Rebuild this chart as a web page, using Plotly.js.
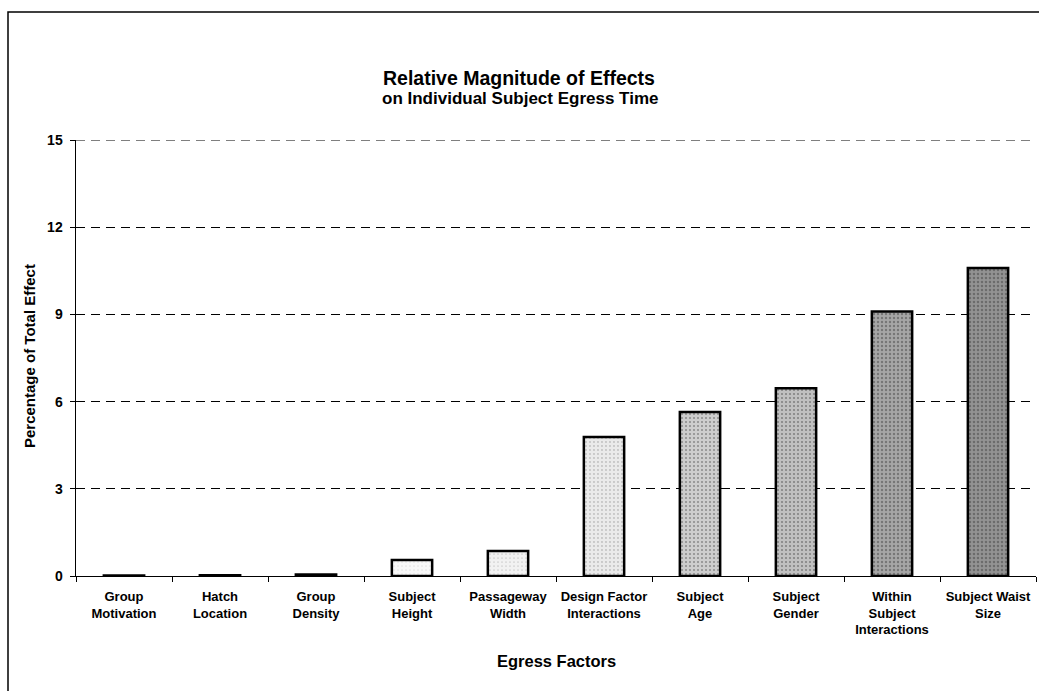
<!DOCTYPE html>
<html>
<head>
<meta charset="utf-8">
<script src="https://cdn.plot.ly/plotly-3.0.1.min.js"></script>
<style>html,body{margin:0;padding:0;background:#fff;}#chart{width:1039px;height:691px;}</style>
</head>
<body>
<div id="chart"></div>
<script>
const categories = [
  "Group<br>Motivation",
  "Hatch<br>Location",
  "Group<br>Density",
  "Subject<br>Height",
  "Passageway<br>Width",
  "Design Factor<br>Interactions",
  "Subject<br>Age",
  "Subject<br>Gender",
  "Within<br>Subject<br>Interactions",
  "Subject Waist<br>Size"
];
const effectPct = [0.02, 0.03, 0.05, 0.55, 0.86, 4.78, 5.64, 6.46, 9.1, 10.6];
const yTicks = [0, 3, 6, 9, 12, 15];
const titleMain = "Relative Magnitude of Effects";
const titleSub = "on Individual Subject Egress Time";
const xTitle = "Egress Factors";
const yTitle = "Percentage of Total Effect";

const fills = ["#ffffff","#ffffff","#ffffff","#f8f8f8","#f2f2f2","#eaeaea","#cdcdcd","#c0c0c0","#a6a6a6","#939393"];
const solid = [0.02,0.02,0.02,0.04,0.06,0.1,0.2,0.22,0.28,0.32];

const font = "Arial, 'Liberation Sans', Helvetica, sans-serif";
const W = 960, H = 436, L = 76, T = 140;
const px2x = p => (p - L) / W;
const py2y = p => 1 - (p - T) / H;

const trace = {
  type: "bar",
  x: categories,
  y: effectPct,
  width: 0.42,
  marker: {
    color: fills,
    line: {color: "#000", width: 2.5},
    pattern: {shape: ".", fillmode: "overlay", fgcolor: "#333", size: 4, solidity: solid}
  },
  hoverinfo: "x+y"
};

const layout = {
  width: 1039, height: 691,
  margin: {l: L, r: 3, t: T, b: 115},
  paper_bgcolor: "#fff",
  plot_bgcolor: "#fff",
  showlegend: false,
  font: {family: font, color: "#000"},
  xaxis: {
    type: "category",
    tickson: "boundaries",
    tickangle: 0,
    ticks: "outside", ticklen: 5, tickcolor: "#000", tickwidth: 1,
    ticklabelstandoff: 8,
    showline: true, linecolor: "#000", linewidth: 1,
    showgrid: false,
    tickfont: {family: font, size: 13, weight: "bold"}
  },
  yaxis: {
    range: [0, 15],
    tickvals: yTicks,
    ticktext: yTicks.map(String),
    ticks: "outside", ticklen: 5, tickcolor: "#000",
    ticklabelstandoff: 4,
    showline: true, linecolor: "#000", linewidth: 1.5,
    showgrid: true, gridcolor: "#000", gridwidth: 1, griddash: "9px,6px",
    zeroline: true, zerolinecolor: "#000", zerolinewidth: 1,
    tickfont: {family: font, size: 14, weight: "bold"}
  },
  annotations: [
    {text: "<b>" + titleMain + "</b>", xref: "paper", yref: "paper", x: px2x(519), y: py2y(78),
     xanchor: "center", yanchor: "middle", showarrow: false, font: {family: font, size: 19.5}},
    {text: "<b>" + titleSub + "</b>", xref: "paper", yref: "paper", x: px2x(520), y: py2y(99),
     xanchor: "center", yanchor: "middle", showarrow: false, font: {family: font, size: 17}},
    {text: "<b>" + xTitle + "</b>", xref: "paper", yref: "paper", x: px2x(556), y: py2y(661),
     xanchor: "center", yanchor: "middle", showarrow: false, font: {family: font, size: 16.5}},
    {text: "<b>" + yTitle + "</b>", xref: "paper", yref: "paper", x: px2x(29), y: py2y(356),
     xanchor: "center", yanchor: "middle", textangle: -90, showarrow: false, font: {family: font, size: 15}}
  ],
  shapes: [
    {type: "rect", xref: "paper", yref: "paper",
     x0: px2x(8), x1: 1.02, y0: -0.5, y1: py2y(12),
     line: {color: "#000", width: 1.5}, fillcolor: "rgba(0,0,0,0)", layer: "below"},
    {type: "line", xref: "paper", yref: "y", x0: 0, x1: 1, y0: yTicks[yTicks.length - 1], y1: yTicks[yTicks.length - 1],
     line: {color: "#000", width: 1, dash: "9px,6px"}}
  ]
};

Plotly.newPlot("chart", [trace], layout, {displayModeBar: false, staticPlot: true});
</script>
</body>
</html>
